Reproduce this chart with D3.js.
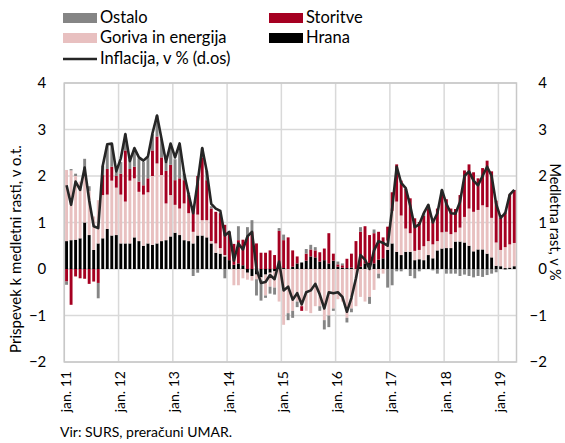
<!DOCTYPE html>
<html><head><meta charset="utf-8">
<script src="https://cdn.jsdelivr.net/npm/d3@7"></script>
<style>
body{margin:0;background:#fff}
svg text{font-family:Lato,"Open Sans",sans-serif;fill:#000}
</style>
</head><body>
<svg id="chart" width="565" height="443"></svg>
<script>
// Months Jan 2011 .. Apr 2019 (100 months)
const months = d3.timeMonths(new Date(2011,0,1), new Date(2019,4,1));

const hrana = [
 .60,.62,.63,.66,1.00,.73,.41,.55,.66,.86,.72,.73,
 .55,.55,.55,.68,.60,.50,.55,.52,.55,.60,.62,.70,
 .78,.73,.62,.60,.55,.72,.72,.68,.55,.35,.33,.27,
 .19,.09,.12,.08,-.08,-.15,-.12,-.18,-.12,-.08,-.05,.02,
 .02,.00,.05,.12,.14,.18,.27,.25,.16,.19,.12,.18,
 .05,.03,.02,.03,.00,.05,.12,.13,.12,.20,.23,.41,
 .55,.37,.30,.37,.37,.19,.21,.19,.30,.23,.40,.44,
 .45,.45,.59,.59,.57,.50,.38,.42,.42,.33,.25,.07,
 .06,.02,.03,.06];
const goriva = [
 1.53,1.50,1.37,1.22,.99,.95,.72,.93,.93,.74,1.18,1.02,
 1.05,.90,1.35,1.27,1.06,1.10,1.10,1.48,1.72,1.42,.79,.89,
 .60,.57,.79,.60,.25,.45,.33,.37,.05,.20,.12,.03,
 .00,-.35,-.35,-.20,-.15,-.10,-.10,-.05,-.45,-.30,-.35,-.70,
 -1.20,-.95,-.90,-.70,-.80,-.90,-.95,-.80,-.80,-1.10,-1.00,-.85,
 -.65,-.70,-1.05,-.85,-.80,-.60,-.70,-.60,-.45,-.10,-.10,.20,
 .70,1.08,.85,.50,.40,.20,.20,.30,.30,.30,.20,.35,
 .35,.30,.20,.30,.55,.80,.85,.85,.95,1.00,.85,.50,
 .35,.45,.50,.50];
const storitve = [
 -.27,-.77,-.16,-.20,-.21,-.32,-.27,-.30,.43,.55,.30,.25,
 .45,1.10,.25,.25,.22,.20,.30,.55,.58,.38,.70,.65,
 .53,.65,.50,.39,.54,.83,1.35,.86,.70,.68,.75,.65,
 .60,.45,.50,.55,.70,.80,.55,.35,.35,.40,.30,.80,
 .60,.68,.35,.15,-.10,.15,.15,.15,.20,.25,.65,.15,
 .05,.05,.20,.30,.60,.75,.80,.60,.65,.60,.45,.30,
 .40,.80,.75,.85,.75,.70,.60,.65,.70,.50,.70,.85,
 .70,.55,.50,.70,1.00,.95,.85,.68,.80,1.00,1.00,.90,
 .69,.75,1.07,1.14];
const ostalo = [
 -.07,.03,.05,.00,.38,.10,.00,-.33,.20,.50,.50,.10,
 .25,.35,.20,.40,.50,.50,.45,.35,.45,.40,.20,.45,
 .45,.68,.15,.05,-.15,-.08,.20,.20,.05,.00,.00,-.20,
 .00,.00,.30,.00,.20,.25,-.35,-.45,-.05,-.15,-.15,.06,
 .12,-.15,-.15,-.12,.00,.10,.10,.07,-.10,-.20,-.25,-.05,
 .06,.04,-.10,-.08,.00,.10,.00,-.15,.08,-.10,.00,-.40,
 -.35,-.05,-.05,.00,-.15,-.20,-.05,.06,.08,-.03,-.10,.06,
 -.10,-.10,-.10,-.15,-.12,-.15,-.18,-.15,-.17,-.13,-.10,-.07,
 .00,-.02,.00,.00];
const inflacija = [
 1.80,1.38,1.88,1.70,2.18,1.48,0.92,0.88,2.22,2.68,2.70,2.10,
 2.38,2.90,2.32,2.60,2.40,2.33,2.42,2.92,3.30,2.80,2.30,2.70,
 2.40,2.70,2.05,1.60,1.20,1.88,2.60,2.10,1.40,1.30,1.25,0.72,
 0.80,0.18,0.55,0.42,0.70,0.80,0.00,-0.30,-0.28,-0.13,-0.22,0.16,
 -0.46,-0.38,-0.66,-0.52,-0.76,-0.50,-0.46,-0.32,-0.55,-0.85,-0.50,-0.52,
 -0.50,-0.60,-0.92,-0.62,-0.20,0.30,0.20,0.00,0.40,0.60,0.56,0.50,
 1.30,2.20,1.85,1.74,1.36,0.90,0.96,1.20,1.38,1.00,1.20,1.70,
 1.40,1.20,1.19,1.44,2.00,2.10,1.90,1.80,2.00,2.20,2.00,1.40,
 1.10,1.20,1.60,1.70];

const tickLabels = ["jan. 11","jan. 12","jan. 13","jan. 14","jan. 15","jan. 16","jan. 17","jan. 18","jan. 19"];
const yTicks = [-2,-1,0,1,2,3,4];
const seriesKeys = ["hrana","goriva","storitve","ostalo"];
const seriesNames = {ostalo:"Ostalo", storitve:"Storitve", goriva:"Goriva in energija", hrana:"Hrana"};
const colors = {hrana:"#000000", goriva:"#e8c0c0", storitve:"#a50021", ostalo:"#858585"};

const rows = months.map((m,i)=>({i, hrana:hrana[i], goriva:goriva[i], storitve:storitve[i], ostalo:ostalo[i]}));

const svg = d3.select("#chart");
const L = 64.3, R = 516.5, T = 83, B = 362;

const x = d3.scaleBand().domain(d3.range(months.length)).range([L, R]).paddingInner(0.36).paddingOuter(0.18);
const step = (R - L) / months.length;
const xStart = i => L + i * step;
const y = d3.scaleLinear().domain([-2, 4]).range([B, T]);

// grid
const g = svg.append("g");
g.selectAll("line.h").data(yTicks).join("line")
  .attr("x1", L).attr("x2", R).attr("y1", d=>y(d)).attr("y2", d=>y(d))
  .attr("stroke", "#d9d9d9").attr("stroke-width", 1.5);
g.selectAll("line.v").data(tickLabels).join("line")
  .attr("x1", (d,k)=>xStart(k*12)).attr("x2", (d,k)=>xStart(k*12))
  .attr("y1", T).attr("y2", B)
  .attr("stroke", "#d9d9d9").attr("stroke-width", 1.5);
// frame
svg.append("rect").attr("x", L).attr("y", T).attr("width", R-L).attr("height", B-T)
  .attr("fill","none").attr("stroke","#c8c8c8").attr("stroke-width",1.5);

// stacked bars
const stack = d3.stack().keys(seriesKeys).offset(d3.stackOffsetDiverging);
const stacked = stack(rows);
svg.append("g").selectAll("g").data(stacked).join("g")
  .attr("fill", d=>colors[d.key])
  .selectAll("rect").data(d=>d).join("rect")
  .attr("x", (d,i)=>x(i))
  .attr("width", x.bandwidth())
  .attr("y", d=>y(Math.max(d[0],d[1])))
  .attr("height", d=>Math.abs(y(d[0])-y(d[1])));

// line
const line = d3.line().x((d,i)=>x(i)+x.bandwidth()/2).y(d=>y(d));
svg.append("path").datum(inflacija).attr("d", line)
  .attr("fill","none").attr("stroke","#262626").attr("stroke-width",2.6).attr("stroke-linejoin","round");

// y axes labels
const leftAxis = d3.axisLeft(y).tickValues(yTicks).tickSize(0).tickPadding(18).tickFormat(d3.format("d"));
const la = svg.append("g").attr("transform",`translate(${L},0)`).call(leftAxis);
la.select(".domain").remove();
la.selectAll("text").style("font-family","Lato, 'Open Sans', sans-serif").style("font-size","15px").attr("fill","#000");

const rightAxis = d3.axisRight(y).tickValues(yTicks).tickSize(0).tickPadding(0).tickFormat(d3.format("d"));
const ra = svg.append("g").attr("transform",`translate(547,0)`).call(rightAxis);
ra.select(".domain").remove();
ra.selectAll("text").attr("text-anchor","end").attr("x",0).style("font-family","Lato, 'Open Sans', sans-serif").style("font-size","15px").attr("fill","#000");

// x labels
svg.append("g").selectAll("text").data(tickLabels).join("text")
  .attr("transform",(d,k)=>`translate(${xStart(k*12)+3},371) rotate(-90)`)
  .attr("text-anchor","end").attr("dominant-baseline","middle")
  .style("font-size","14px").text(d=>d);

// axis titles
svg.append("text").attr("transform","translate(17,249) rotate(-90)")
  .attr("text-anchor","middle").attr("dominant-baseline","middle")
  .style("font-size","15px").text("Prispevek k medletni rasti, v o.t.");
svg.append("text").attr("transform","translate(554,222) rotate(90)")
  .attr("text-anchor","middle").attr("dominant-baseline","middle")
  .style("font-size","14.5px").text("Medletna rast, v %");

// source
svg.append("text").attr("x",60).attr("y",437).style("font-size","14px").text("Vir: SURS, preračuni UMAR.");

// legend
const legendItems = [
  {key:"ostalo", x:63, y:13},
  {key:"storitve", x:269, y:13},
  {key:"goriva", x:63, y:33},
  {key:"hrana", x:269, y:33}
];
const lg = svg.append("g");
legendItems.forEach(it=>{
  lg.append("rect").attr("x",it.x).attr("y",it.y).attr("width",34).attr("height",10).attr("fill",colors[it.key]);
  lg.append("text").attr("x",it.x+37).attr("y",it.y+10).style("font-size","16.5px").text(seriesNames[it.key]);
});
lg.append("line").attr("x1",63).attr("x2",97).attr("y1",59).attr("y2",59).attr("stroke","#262626").attr("stroke-width",2.6);
lg.append("text").attr("x",100).attr("y",64).style("font-size","16.5px").text("Inflacija, v % (d.os)");
</script>
</body></html>
